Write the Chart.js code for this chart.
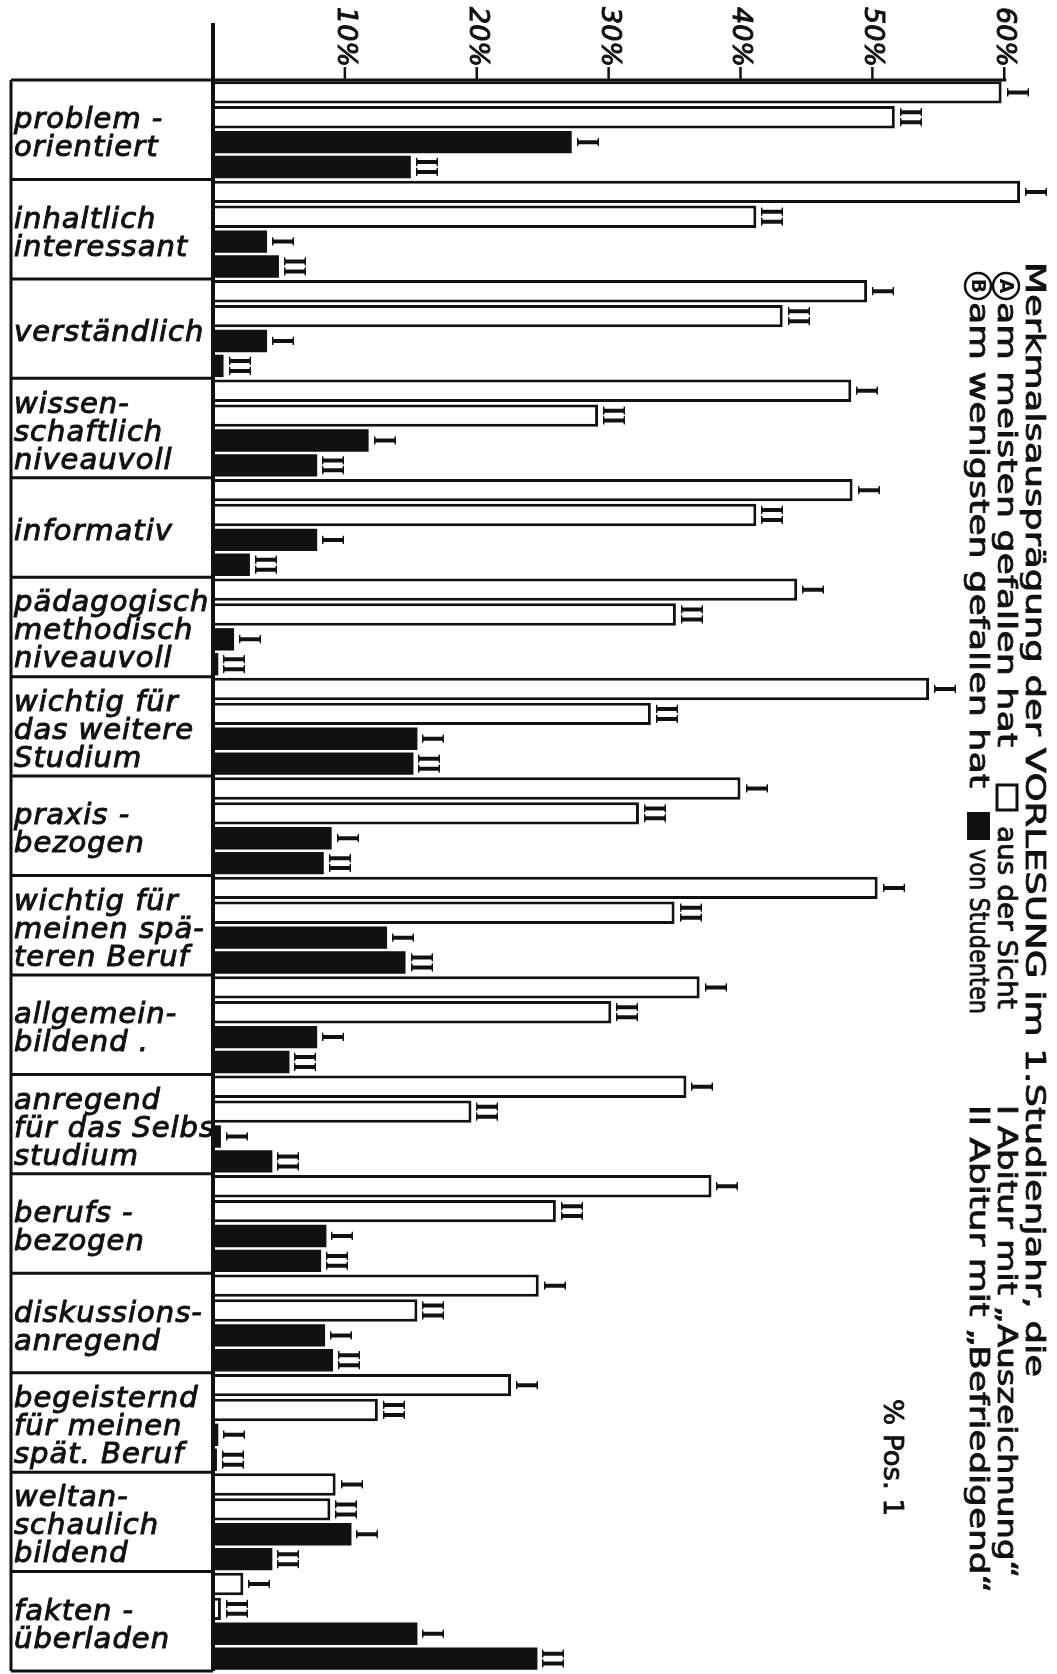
<!DOCTYPE html>
<html>
<head>
<meta charset="utf-8">
<title>Merkmalsausprägung der Vorlesung</title>
<script src="https://cdn.jsdelivr.net/npm/chart.js@4"></script>
<style>
  html, body { margin: 0; padding: 0; background: #fff; }
  canvas { display: block; }
</style>
</head>
<body>
<canvas id="chart" width="1057" height="1674"></canvas>
<script>
// Vorlesung im 1. Studienjahr - rotated scan, bars read left to right

const categories = [
    ['problem -', 'orientiert'],
    ['inhaltlich', 'interessant'],
    ['verständlich'],
    ['wissen-', 'schaftlich', 'niveauvoll'],
    ['informativ'],
    ['pädagogisch', 'methodisch', 'niveauvoll'],
    ['wichtig für', 'das weitere', 'Studium'],
    ['praxis -', 'bezogen'],
    ['wichtig für', 'meinen spä-', 'teren Beruf'],
    ['allgemein-', 'bildend .'],
    ['anregend', 'für das Selbst-', 'studium'],
    ['berufs -', 'bezogen'],
    ['diskussions-', 'anregend'],
    ['begeisternd', 'für meinen', 'spät. Beruf'],
    ['weltan-', 'schaulich', 'bildend'],
    ['fakten -', 'überladen']
];

// (A) am meisten gefallen (white), (B) am wenigsten gefallen (black); I / II = Abitur group
const mostLikedI   = [59.8, 61.2, 49.6, 48.4, 48.5, 44.3, 54.3, 40.0, 50.4, 36.9, 35.9, 37.8, 24.7, 22.6, 9.3, 2.3];
const mostLikedII  = [51.7, 41.2, 43.2, 29.2, 41.2, 35.1, 33.2, 32.3, 35.0, 30.2, 19.6, 26.0, 15.5, 12.5, 8.9, 0.6];
const leastLikedI  = [27.2, 4.1, 4.1, 11.8, 7.9, 1.6, 15.5, 9.0, 13.2, 7.9, 0.6, 8.6, 8.5, 0.4, 10.5, 15.5];
const leastLikedII = [15.0, 5.0, 0.8, 7.9, 2.8, 0.4, 15.2, 8.4, 14.6, 5.8, 4.5, 8.2, 9.1, 0.3, 4.5, 24.6];
const seriesMarks  = ['I', 'II', 'I', 'II'];

const tickValues = [10, 20, 30, 40, 50, 60];
const tickLabels = ['10%', '20%', '30%', '40%', '50%', '60%'];

const INK = '#111';

// fill + thin stroke, the scan's lettering is heavier than the fonts
function inkText(ctx, text, x, y, weight) {
    ctx.fillText(text, x, y);
    if (weight) {
        ctx.lineWidth = weight;
        ctx.strokeText(text, x, y);
    }
}

// draws text turned 90deg clockwise, stretched so it runs from y0 to y1
function drawDown(ctx, text, baseX, y0, y1, font) {
    ctx.save();
    ctx.font = font;
    ctx.translate(baseX, y0);
    ctx.rotate(Math.PI / 2);
    const w = ctx.measureText(text).width;
    ctx.scale((y1 - y0) / w, 1);
    ctx.textAlign = 'left';
    ctx.textBaseline = 'alphabetic';
    inkText(ctx, text, 0, 0, 0.8);
    ctx.restore();
}

// circled letter (A) / (B) in the legend
function drawCircled(ctx, letter, cx, cy) {
    ctx.save();
    ctx.lineWidth = 2.5;
    ctx.beginPath();
    ctx.arc(cx, cy, 13, 0, Math.PI * 2);
    ctx.stroke();
    ctx.translate(cx, cy);
    ctx.rotate(Math.PI / 2);
    ctx.font = 'bold 19px "DejaVu Sans"';
    ctx.textAlign = 'center';
    ctx.textBaseline = 'middle';
    ctx.fillText(letter, 0, 1);
    ctx.restore();
}

const scanPlugin = {
    id: 'scan',
    beforeDraw(chart) {
        const ctx = chart.ctx;
        ctx.save();
        ctx.fillStyle = '#fff';
        ctx.fillRect(0, 0, chart.width, chart.height);
        ctx.restore();
    },
    afterDatasetsDraw(chart) {
        const ctx = chart.ctx;
        const xs = chart.scales.x;
        const ys = chart.scales.y;
        const area = chart.chartArea;
        ctx.save();
        ctx.fillStyle = INK;
        ctx.strokeStyle = INK;

        // 1. I / II marks at the end of each bar
        chart.data.datasets.forEach((ds, di) => {
            chart.getDatasetMeta(di).data.forEach(bar => {
                ctx.save();
                ctx.translate(bar.x + 5, bar.y);
                ctx.rotate(Math.PI / 2);
                ctx.scale(0.75, 1);
                ctx.font = 'bold 34px "Liberation Serif"';
                ctx.textAlign = 'center';
                ctx.textBaseline = 'alphabetic';
                ctx.fillText(seriesMarks[di], 0, 0);
                ctx.restore();
            });
        });

        // 2. axes: top line with ticks, left axis, label box
        const left = area.left;
        const boxLeft = 11;
        ctx.lineWidth = 3;
        ctx.beginPath();
        ctx.moveTo(boxLeft, area.top);
        ctx.lineTo(xs.getPixelForValue(tickValues[tickValues.length - 1]) + 2, area.top);
        ctx.stroke();

        ctx.lineWidth = 4;
        ctx.beginPath();
        ctx.moveTo(left, 23);
        ctx.lineTo(left, area.bottom);
        ctx.stroke();

        ctx.lineWidth = 3;
        ctx.beginPath();
        ctx.moveTo(boxLeft, area.top);
        ctx.lineTo(boxLeft, area.bottom);
        categories.forEach((c, i) => {
            const yb = ys.getPixelForValue(i) + (ys.getPixelForValue(1) - ys.getPixelForValue(0)) / 2;
            ctx.moveTo(boxLeft, yb);
            ctx.lineTo(left, yb);
        });
        ctx.stroke();

        tickValues.forEach((v, i) => {
            const x = xs.getPixelForValue(v);
            ctx.lineWidth = 2.5;
            ctx.beginPath();
            ctx.moveTo(x, area.top);
            ctx.lineTo(x, area.top - 13);
            ctx.stroke();
            ctx.save();
            ctx.translate(x, area.top - 13);
            ctx.rotate(Math.PI / 2);
            ctx.font = 'italic 27px "DejaVu Sans"';
            ctx.textAlign = 'right';
            ctx.textBaseline = 'middle';
            inkText(ctx, tickLabels[i], 0, 0, 1);
            ctx.restore();
        });

        // 3. category labels in the box on the left
        ctx.save();
        ctx.beginPath();
        ctx.rect(0, 0, left - 1, chart.height);
        ctx.clip();
        ctx.font = 'italic 29px "DejaVu Sans"';
        ctx.letterSpacing = '1px';
        ctx.textAlign = 'left';
        ctx.textBaseline = 'middle';
        const lineH = 28;
        categories.forEach((lines, i) => {
            const yc = ys.getPixelForValue(i) + 5;
            lines.forEach((t, k) => {
                inkText(ctx, t, 14, yc + (k - (lines.length - 1) / 2) * lineH, 1);
            });
        });
        ctx.restore();

        // 4. legend text, turned like the scan
        const f = '26px "DejaVu Sans"';
        drawDown(ctx, 'Merkmalsausprägung der VORLESUNG im 1.Studienjahr, die', 1026, 262, 1377, f);
        drawCircled(ctx, 'A', 1006, 286);
        drawDown(ctx, 'am meisten gefallen hat', 998, 302, 747, f);
        drawDown(ctx, 'aus der Sicht', 998, 826, 1009, f);
        drawDown(ctx, 'I Abitur mit „Auszeichnung“', 998, 1105, 1578, f);
        drawCircled(ctx, 'B', 978, 286);
        drawDown(ctx, 'am wenigsten gefallen hat', 970, 302, 788, f);
        drawDown(ctx, 'von Studenten', 970, 849, 1014, f);
        drawDown(ctx, 'II Abitur mit „Befriedigend“', 970, 1105, 1593, f);
        drawDown(ctx, '% Pos. 1', 884, 1399, 1516, '26px "DejaVu Sans"');

        ctx.lineWidth = 3;
        ctx.fillStyle = '#fff';
        ctx.fillRect(997, 785, 20, 25);
        ctx.strokeRect(997, 785, 20, 25);
        ctx.fillStyle = INK;
        ctx.fillRect(967, 812, 23, 28);

        ctx.restore();
    }
};

function buildChart() {
    const ctx = document.getElementById('chart').getContext('2d');
    const white = { backgroundColor: '#fff', borderColor: INK, borderWidth: 3, borderSkipped: 'start' };
    const black = { backgroundColor: INK, borderColor: INK, borderWidth: 0 };

    new Chart(ctx, {
        type: 'bar',
        data: {
            labels: categories,
            datasets: [
                { label: 'A I', data: mostLikedI, ...white },
                { label: 'A II', data: mostLikedII, ...white },
                { label: 'B I', data: leastLikedI, ...black },
                { label: 'B II', data: leastLikedII, ...black }
            ]
        },
        options: {
            indexAxis: 'y',
            responsive: false,
            animation: false,
            devicePixelRatio: 1,
            layout: { padding: { left: 213, top: 80, right: 0, bottom: 3 } },
            datasets: { bar: { categoryPercentage: 1, barPercentage: 0.9 } },
            plugins: {
                legend: { display: false },
                tooltip: { enabled: false }
            },
            scales: {
                x: { type: 'linear', min: 0, max: 64, display: false },
                y: { type: 'category', display: false }
            }
        },
        plugins: [scanPlugin]
    });
}

buildChart();
</script>
</body>
</html>
